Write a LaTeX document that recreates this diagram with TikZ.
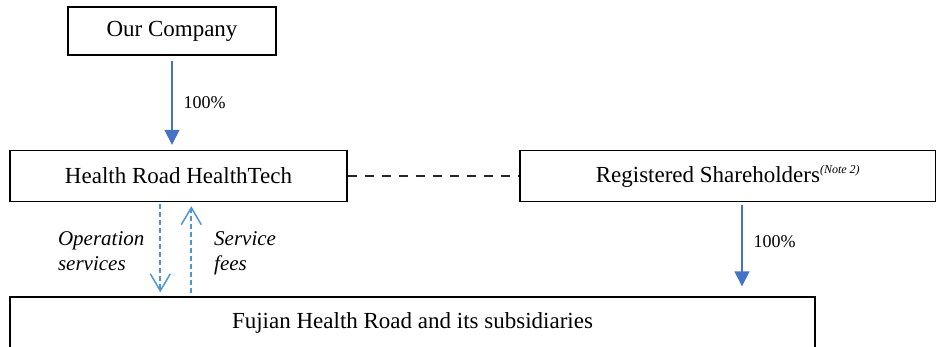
\documentclass[tikz,border=0pt]{standalone}
\usepackage{fontspec}
\setmainfont{Liberation Serif}
\usetikzlibrary{arrows.meta,positioning,calc}
\definecolor{ownblue}{HTML}{4472C4}
\definecolor{flowblue}{HTML}{5096D6}

\begin{document}
\begin{tikzpicture}[x=1pt,y=-1pt,
    box/.style={draw, rectangle, line width=1.4pt, inner sep=0pt, font=\fontsize{23}{27}\selectfont},
    own/.style={draw=ownblue, line width=1.4pt, -{Triangle[width=15pt,length=15pt]}},
    flow/.style={draw=flowblue, line width=1.8pt, dash pattern=on 5pt off 3pt, -{Straight Barb[width=20pt,length=17pt,line width=1.5pt]}},
    pct/.style={font=\fontsize{18}{21}\selectfont, inner sep=0pt},
    lbl/.style={font=\fontsize{21}{25}\selectfont\itshape, align=left, inner sep=0pt}]
    \clip (0,0) rectangle (936,346);
    \useasboundingbox (0,0) rectangle (936,346);

    % boxes
    \node [box, minimum width=208pt, minimum height=48pt] (company) at (172,31) {Our Company};
    \node [box, minimum width=337pt, minimum height=51pt] (healthtech) at (178.5,176) {Health Road HealthTech};
    \node [box, minimum width=416pt, minimum height=51pt] (shareholders) at (728,176)
        {Registered Shareholders\textsuperscript{\fontsize{12}{14}\selectfont\itshape (Note 2)}};
    \node [box, minimum width=805pt, minimum height=52pt] (fujian) at (412.5,323) {Fujian Health Road and its subsidiaries};

    % ownership
    \draw [own, shorten <=5pt, shorten >=5pt] (company.south) -- (company.south |- healthtech.north)
        node [pct, midway, right=11pt] {100\%};
    \coordinate (shout) at ($(shareholders.south)+(14,0)$);
    \draw [own, shorten <=3pt, shorten >=10pt] (shout) -- (shout |- fujian.north)
        node [pct, pos=0.42, right=11pt] {100\%};

    % contractual link
    \draw [dash pattern=on 9pt off 8pt, line width=1.1pt, black!85] (healthtech.east) -- (shareholders.west);

    % services and fees
    \coordinate (opstop) at ($(healthtech.south west)+(151,0)$);
    \coordinate (feestop) at ($(healthtech.south west)+(182,0)$);
    \draw [flow, shorten <=2pt, shorten >=4pt] (opstop) -- (opstop |- fujian.north)
        node [lbl, midway, left=15pt, yshift=-2pt] {Operation\\services};
    \draw [flow, shorten <=3pt, shorten >=4pt] (feestop |- fujian.north) -- (feestop)
        node [lbl, midway, right=22pt, yshift=-4pt] {Service\\fees};
\end{tikzpicture}
\end{document}
